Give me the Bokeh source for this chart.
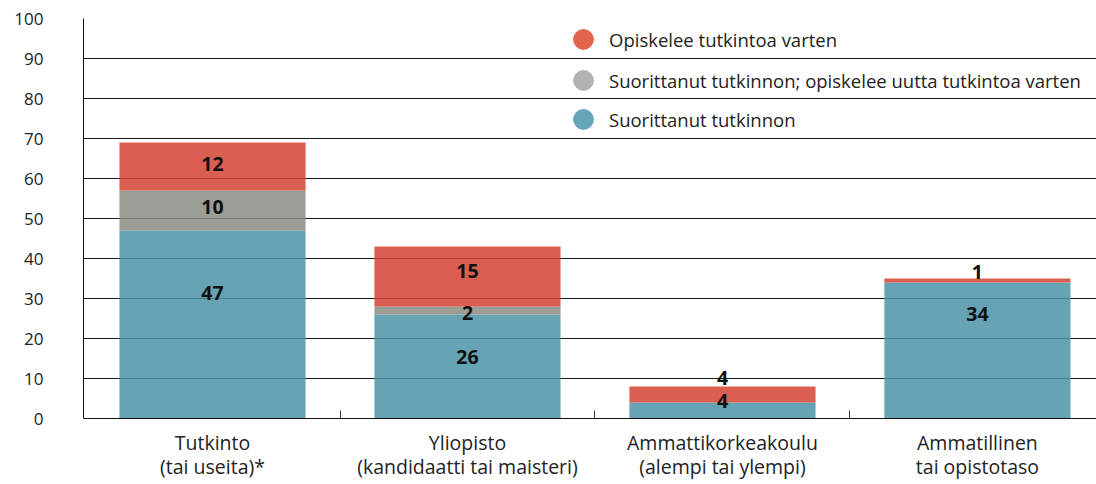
from bokeh.plotting import figure
from bokeh.models import FixedTicker, Legend, LegendItem, Label, Range1d
from bokeh.embed import file_html
from bokeh.resources import INLINE
from bokeh.core.properties import value

# ---- data ----
categories = ["Tutkinto\n(tai useita)*",
              "Yliopisto\n(kandidaatti tai maisteri)",
              "Ammattikorkeakoulu\n(alempi tai ylempi)",
              "Ammatillinen\ntai opistotaso"]
completed = [47, 26, 4, 34]
completed_studying = [10, 2, 0, 0]
studying = [12, 15, 4, 1]
series_names = ["Suorittanut tutkinnon",
                "Suorittanut tutkinnon; opiskelee uutta tutkintoa varten",
                "Opiskelee tutkintoa varten"]
y_ticks = list(range(0, 101, 10))

# value-label vertical placement (in % units)
label_y_completed = [31.4, 15.5, 4.5, 26.2]
label_y_completed_studying = [52.8, 26.3, None, None]
label_y_studying = [63.7, 37.0, 10.2, 36.6]

# ---- style ----
FONT = "Open Sans"
bar_colors = ["#4B93A7", "#8C8C86", "#D34333"]
legend_colors = ["#65A6BA", "#B4B2AE", "#E2644A"]

xs = list(range(len(categories)))

p = figure(width=1096, height=484,
           x_range=Range1d(-0.506, 3.467), y_range=Range1d(0, 100),
           output_backend="svg", toolbar_location=None,
           min_border_left=83, min_border_right=0,
           min_border_top=18, min_border_bottom=66)
p.outline_line_color = None
p.background_fill_color = "white"

# grid
p.xgrid.visible = False
p.ygrid.ticker = FixedTicker(ticks=y_ticks)
p.ygrid.grid_line_color = "#1a1a1a"
p.ygrid.grid_line_width = 1

# bars
data = {"x": xs, "completed": completed,
        "completed_studying": completed_studying, "studying": studying}
stack_keys = ["completed", "completed_studying", "studying"]
p.vbar_stack(stack_keys, x="x", width=0.73, source=data,
             color=bar_colors, fill_alpha=0.85, line_color=None)

# value labels
def add_labels(vals, ys):
    px, py, pt = [], [], []
    for x, v, y in zip(xs, vals, ys):
        if v and y is not None:
            px.append(x); py.append(y); pt.append(str(v))
    p.text(x=px, y=py, text=pt, text_align="center", text_baseline="middle",
           text_font=value(FONT), text_font_size="19.5px",
           text_font_style="bold", text_color="#111111")

add_labels(completed, label_y_completed)
add_labels(completed_studying, label_y_completed_studying)
add_labels(studying, label_y_studying)

# axes
yax = p.yaxis[0]
yax.ticker = FixedTicker(ticks=y_ticks)
yax.major_tick_out = 0
yax.major_tick_in = 0
yax.minor_tick_out = 0
yax.minor_tick_in = 0
yax.axis_line_color = "#111111"
yax.major_label_standoff = 40
yax.major_label_text_font = FONT
yax.major_label_text_font_size = "17px"
yax.major_label_text_color = "#222222"

xax = p.xaxis[0]
xax.ticker = FixedTicker(ticks=xs, minor_ticks=[0.5, 1.5, 2.5])
xax.major_label_overrides = {i: c for i, c in zip(xs, categories)}
xax.major_tick_out = 0
xax.major_tick_in = 0
xax.minor_tick_out = 0
xax.minor_tick_in = 8
xax.minor_tick_line_color = "#333333"
xax.axis_line_color = "#111111"
xax.major_label_standoff = 10
xax.major_label_text_font = FONT
xax.major_label_text_font_size = "19.5px"
xax.major_label_text_line_height = 0.9
xax.major_label_text_color = "#222222"

p.add_layout(Label(x=-0.664, y=-8, text="%", text_align="right",
                   text_baseline="middle", text_font=FONT,
                   text_font_size="17px", text_color="#222222"))

# legend: one Legend per entry so that circles are large and rows align with grid
legend_rows = [(2, 353), (1, 312), (0, 273)]
for idx, bottom in legend_rows:
    r = p.scatter(x=[float("nan")], y=[float("nan")], marker="circle", size=10,
                  fill_color=legend_colors[idx], line_color=None)
    lg = Legend(items=[LegendItem(label=series_names[idx], renderers=[r])],
                location=(474, bottom), orientation="vertical",
                glyph_width=52, glyph_height=52, label_height=52,
                label_standoff=0, padding=0, margin=0, spacing=0,
                border_line_alpha=0, background_fill_alpha=0,
                label_text_font=FONT, label_text_font_size="18.5px",
                label_text_color="#222222", label_text_baseline="middle")
    p.add_layout(lg, "center")

open("out.html", "w").write(file_html(p, INLINE))
